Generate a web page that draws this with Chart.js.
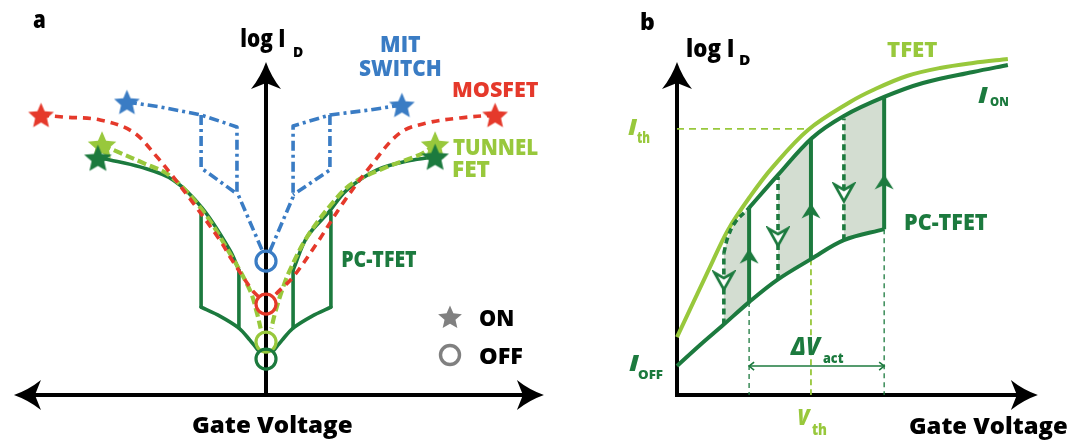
<!DOCTYPE html>
<html><head><meta charset="utf-8">
<script src="https://cdn.jsdelivr.net/npm/chart.js@4.4.1/dist/chart.umd.min.js"></script>
<style>
html,body{margin:0;padding:0;background:#fff;}
#wrap{position:relative;width:1083px;height:441px;background:#fff;}
canvas{position:absolute;left:0;top:0;}
</style></head><body>
<div id="wrap"><canvas id="ca" width="1083" height="441"></canvas><canvas id="cb" width="1083" height="441"></canvas></div>
<script>
// ---------- Panel a data (gate voltage, log I_D in arbitrary units) ----------
const mosLeftV = [-9.22,-8.32,-6.80,-5.45,-4.47,-3.93,-2.99,-1.89,-1.39,-0.57,-0.29];
const mosLeftI = [8.41,8.35,8.26,7.90,7.15,6.67,5.77,4.65,4.05,3.15,2.94];
const mosRightV = [9.39,7.95,6.60,5.49,4.26,3.16,2.09,1.11,0.57,0.29];
const mosRightI = [8.41,8.32,8.17,7.87,6.85,5.77,4.56,3.54,3.15,2.94];

const mitLeftV = [-5.70,-4.34,-2.66,-1.19,-1.19,-0.16];
const mitLeftI = [8.80,8.65,8.41,8.05,6.10,4.35];
const mitLeftLoopV = [-2.66,-2.66,-1.19];
const mitLeftLoopI = [8.41,6.82,6.04];
const mitRightV = [5.57,4.26,2.62,1.11,1.11,0.16];
const mitRightI = [8.71,8.56,8.41,8.08,5.95,4.32];
const mitRightLoopV = [2.62,2.62,1.11];
const mitRightLoopI = [8.41,6.76,6.01];

const tfetLeftV = [-6.72,-5.98,-5.04,-3.93,-2.62,-1.56,-0.66,-0.37,-0.22];
const tfetLeftI = [7.51,7.27,6.97,6.58,5.56,4.35,3.15,2.46,2.00];
const tfetRightV = [6.93,6.31,4.96,3.57,2.83,1.68,0.98,0.66,0.37,0.22];
const tfetRightI = [7.51,7.22,6.85,6.37,5.86,4.74,3.75,3.15,2.46,2.00];

const pcUpLeftV = [-6.89,-6.39,-5.16,-3.81,-2.62,-1.48,-1.11];
const pcUpLeftI = [7.12,7.06,6.85,6.46,5.62,4.35,3.75];
const pcUpRightV = [6.93,5.90,4.55,3.32,2.58,1.68,1.11];
const pcUpRightI = [7.15,7.04,6.76,6.16,5.50,4.74,3.75];
const pcLowLeftV = [-0.33,-0.66,-1.11,-1.89,-2.66];
const pcLowLeftI = [1.35,1.65,2.01,2.37,2.64];
const pcLowRightV = [0.33,0.66,1.11,1.89,2.66];
const pcLowRightI = [1.35,1.65,2.01,2.37,2.64];
const pcStepV = [-2.66,-1.11,1.11,2.66];
const pcStepTop = [5.62,3.75,3.75,5.50];
const pcStepBottom = [2.64,2.01,2.01,2.64];

const offNames = ['MIT','MOSFET','TFET','PC-TFET'];
const offV = [0,0,0,0];
const offI = [4.02,2.73,1.59,1.08];
const onMosV = [-9.22,9.39], onMosI = [8.41,8.41];
const onMitV = [-5.70,5.57], onMitI = [8.80,8.71];
const onTfetV = [-6.72,6.93], onTfetI = [7.51,7.51];
const onPcV = [-6.89,6.93], onPcI = [7.12,7.15];

// ---------- Panel b data ----------
const bTfetV = [0,0.90,1.39,1.99,2.62,3.58,4.73,5.36,6.28,7.19,8.09,9.04];
const bTfetI = [1.74,3.84,4.95,5.95,6.85,7.96,8.80,9.16,9.58,9.82,9.97,10.09];
const bOnV = [1.97,2.76,3.69,4.56,5.66,6.72,8.09,9.04];
const bOnI = [5.62,6.61,7.72,8.38,8.95,9.37,9.70,9.91];
const bBendV = [1.28,1.39,1.58,1.97];
const bBendI = [4.26,4.74,5.17,5.62];
const bOffV = [0,0.63,1.26,1.97,2.73,3.66,4.56,5.66];
const bOffI = [0.87,1.50,2.10,2.79,3.45,4.08,4.65,4.98];
const upV = [1.97,3.66,5.66], upBottom = [2.79,4.08,4.98], upTop = [5.62,7.72,8.95];
const downV = [1.28,2.76,4.56], downTop = [4.26,6.55,8.30], downBottom = [2.12,3.45,4.65];
const shade1V = [1.28,1.97,1.97,1.58,1.39,1.28], shade1I = [2.12,2.79,5.62,5.17,4.74,4.26];
const shade2V = [2.76,3.66,3.66,2.76], shade2I = [3.45,4.08,7.72,6.61];
const shade3V = [4.56,5.66,5.66,4.56], shade3I = [4.65,4.98,8.95,8.38];
const upArrowV = [1.97,3.66,5.66], upArrowI = [4.17,5.53,6.40];
const downArrowV = [1.28,2.76,4.56], downArrowI = [3.42,4.74,6.07];
const ithV = [0,3.58], ithI = [7.99,7.99];
const vthV = 3.66;
const actV = [1.97,5.66], actI = 0.87;

// ---------- styles ----------
const COL = {red:'#e5392b', blue:'#3a7cc4', lime:'#98c83c', green:'#1c7a3e', gray:'#808080', shade:'#d3ddd1', black:'#000000'};
const FONT = '"Open Sans", "Noto Sans", "Liberation Sans", sans-serif';

const pts = (xs, ys) => xs.map((x, i) => ({x, y: ys[i]}));
function lineDs(xs, ys, color, width, dash, tension, cap) {
  return {data: pts(xs, ys), showLine: true, borderColor: color, borderWidth: width,
    borderDash: dash || [], tension: tension || 0, pointRadius: 0, fill: false, clip: false,
    borderCapStyle: cap || 'butt', borderJoinStyle: 'round'};
}
function pointDs(xs, ys, style, extra) {
  return Object.assign({data: pts(xs, ys), showLine: false, pointStyle: style, pointRadius: 10,
    clip: false}, extra || {});
}
function shadeDs(xs, ys) {
  return {data: pts(xs, ys), showLine: true, fill: 'shape', backgroundColor: COL.shade,
    borderWidth: 0, borderColor: 'rgba(0,0,0,0)', pointRadius: 0, tension: 0, clip: false};
}
function starPath(g, cx, cy, R) {
  g.beginPath();
  for (let i = 0; i < 10; i++) {
    const r = i % 2 ? R * 0.46 : R;
    const a = -Math.PI / 2 + i * Math.PI / 5;
    const px = cx + r * Math.cos(a), py = cy + r * Math.sin(a);
    if (i) g.lineTo(px, py); else g.moveTo(px, py);
  }
  g.closePath();
}
function starImg(color, R) {
  const c = document.createElement('canvas');
  const s = Math.ceil(2 * R + 2); c.width = s; c.height = s;
  const g = c.getContext('2d'); g.fillStyle = color;
  starPath(g, s / 2, s / 2 + R * 0.09, R); g.fill();
  return c;
}
function upArrowImg(color) {
  const c = document.createElement('canvas'); c.width = 20; c.height = 16;
  const g = c.getContext('2d'); g.fillStyle = color;
  g.beginPath(); g.moveTo(10, 0.5); g.lineTo(19.5, 15.5); g.lineTo(10, 11); g.lineTo(0.5, 15.5); g.closePath(); g.fill();
  return c;
}
function downArrowImg(color) {
  const c = document.createElement('canvas'); c.width = 24; c.height = 22;
  const g = c.getContext('2d'); g.fillStyle = '#ffffff'; g.strokeStyle = color; g.lineWidth = 2.6; g.lineJoin = 'miter';
  g.beginPath(); g.moveTo(12, 19.5); g.lineTo(2.5, 2.5); g.lineTo(12, 8); g.lineTo(21.5, 2.5); g.closePath(); g.fill(); g.stroke();
  return c;
}
function withOrder(list) { return list.map((d, i) => Object.assign(d, {order: list.length - i})); }

function arrowHead(ctx, x, y, ang, len, half, notch) {
  ctx.save(); ctx.translate(x, y); ctx.rotate(ang);
  ctx.beginPath(); ctx.moveTo(0, 0);
  ctx.quadraticCurveTo(-len * 0.55, -half * 0.35, -len, -half);
  ctx.lineTo(-len + notch, 0); ctx.lineTo(-len, half);
  ctx.quadraticCurveTo(-len * 0.55, half * 0.35, 0, 0);
  ctx.closePath(); ctx.fill(); ctx.restore();
}
function txt(ctx, s, left, base, size, color, width, italic) {
  ctx.save();
  ctx.font = (italic ? 'italic ' : '') + '800 ' + size + 'px ' + FONT;
  ctx.fillStyle = color; ctx.textAlign = 'left'; ctx.textBaseline = 'alphabetic';
  const m = ctx.measureText(s);
  const ink = m.actualBoundingBoxRight + m.actualBoundingBoxLeft;
  const k = width && ink > 0 ? width / ink : 1;
  ctx.translate(left + m.actualBoundingBoxLeft * k, base);
  ctx.scale(k, 1);
  ctx.fillText(s, 0, 0);
  ctx.restore();
}
function drawLabels(ctx, list) { list.forEach(l => txt(ctx, l[0], l[1], l[2], l[3], l[4], l[5], l[6])); }

const labelsA = [
  ['a', 33, 28, 24, COL.black, 12],
  ['log I', 241, 47, 25, COL.black, 43],
  ['D', 294, 57, 14, COL.black, 9],
  ['MIT', 381, 52, 23, COL.blue, 40],
  ['SWITCH', 359, 76, 22, COL.blue, 82],
  ['MOSFET', 453, 97, 21, COL.red, 85],
  ['TUNNEL', 453, 155, 22.5, COL.lime, 85],
  ['FET', 453, 177, 22, COL.lime, 37],
  ['PC-TFET', 342, 267, 23, COL.green, 75],
  ['ON', 480, 326, 22, COL.black, 33],
  ['OFF', 480, 364, 22, COL.black, 42],
  ['Gate Voltage', 193, 433, 22, COL.black, 159]
];
const labelsB = [
  ['b', 641, 30, 23, COL.black, 13],
  ['log I', 687, 57, 25, COL.black, 46],
  ['D', 740, 65, 14, COL.black, 10],
  ['TFET', 887, 57, 21, COL.lime, 50],
  ['I', 978, 103, 22, COL.green, 10, true],
  ['ON', 990, 106, 13, COL.green, 18],
  ['PC-TFET', 905, 230, 23, COL.green, 83],
  ['I', 628, 135, 23, COL.lime, 10, true],
  ['th', 637, 143, 15, COL.lime, 13],
  ['I', 629, 371, 23, COL.green, 11, true],
  ['OFF', 638, 379, 13, COL.green, 25],
  ['\u0394V', 790, 355, 24.5, COL.green, 32, true],
  ['act', 823, 363, 14, COL.green, 21],
  ['V', 798, 425, 23, COL.lime, 13, true],
  ['th', 812, 435, 15, COL.lime, 15],
  ['Gate Voltage', 910, 434, 22, COL.black, 157]
];

// ---------- Panel a chart ----------
const circleOpts = c => ({pointStyle: 'circle', pointRadius: 10, pointBorderWidth: 3.2, pointBorderColor: c, pointBackgroundColor: 'rgba(0,0,0,0)'});
const dsA = withOrder([
  lineDs(pcUpLeftV, pcUpLeftI, COL.green, 3.6, [], 0.35, 'round'),
  lineDs(pcUpRightV, pcUpRightI, COL.green, 3.6, [], 0.35, 'round'),
  lineDs(pcLowLeftV, pcLowLeftI, COL.green, 3.6, [], 0.3, 'round'),
  lineDs(pcLowRightV, pcLowRightI, COL.green, 3.6, [], 0.3, 'round'),
  ...pcStepV.map((v, i) => lineDs([v, v], [pcStepTop[i], pcStepBottom[i]], COL.green, 3.6, [], 0, 'round')),
  lineDs(tfetLeftV, tfetLeftI, COL.lime, 4.2, [9, 4], 0.35),
  lineDs(tfetRightV, tfetRightI, COL.lime, 4.2, [9, 4], 0.35),
  lineDs(mosLeftV, mosLeftI, COL.red, 3.6, [8, 6], 0.35),
  lineDs(mosRightV, mosRightI, COL.red, 3.6, [8, 6], 0.35),
  lineDs(mitLeftV, mitLeftI, COL.blue, 3.6, [10, 4, 3, 4], 0),
  lineDs(mitLeftLoopV, mitLeftLoopI, COL.blue, 3.6, [10, 4, 3, 4], 0),
  lineDs(mitRightV, mitRightI, COL.blue, 3.6, [10, 4, 3, 4], 0),
  lineDs(mitRightLoopV, mitRightLoopI, COL.blue, 3.6, [10, 4, 3, 4], 0),
  pointDs([offV[2]], [offI[2]], 'circle', circleOpts(COL.lime)),
  pointDs([offV[3]], [offI[3]], 'circle', circleOpts(COL.green)),
  pointDs([offV[1]], [offI[1]], 'circle', circleOpts(COL.red)),
  pointDs([offV[0]], [offI[0]], 'circle', circleOpts(COL.blue)),
  pointDs(onTfetV, onTfetI, starImg(COL.lime, 15)),
  pointDs(onPcV, onPcI, starImg(COL.green, 14.5)),
  pointDs(onMosV, onMosI, starImg(COL.red, 13.5)),
  pointDs(onMitV, onMitI, starImg(COL.blue, 13.5))
]);

const axisA = {xFrom: -10.33, xTo: 11.39, yTop: 10};
const pluginA = {
  id: 'panelA',
  beforeDatasetsDraw(chart) {
    const {ctx, scales: {x, y}} = chart;
    const y0 = y.getPixelForValue(0), x0 = x.getPixelForValue(0);
    const xl = x.getPixelForValue(axisA.xFrom), xr = x.getPixelForValue(axisA.xTo);
    const yt = y.getPixelForValue(axisA.yTop);
    ctx.save(); ctx.strokeStyle = COL.black; ctx.fillStyle = COL.black; ctx.lineWidth = 4; ctx.lineCap = 'butt';
    ctx.beginPath(); ctx.moveTo(xl + 20, y0); ctx.lineTo(xr - 20, y0); ctx.stroke();
    ctx.beginPath(); ctx.moveTo(x0, y0 + 2); ctx.lineTo(x0, yt + 20); ctx.stroke();
    arrowHead(ctx, xl, y0, Math.PI, 27, 15, 6);
    arrowHead(ctx, xr, y0, 0, 27, 15, 6);
    arrowHead(ctx, x0, yt, -Math.PI / 2, 27, 15, 6);
    ctx.restore();
  },
  afterDatasetsDraw(chart) {
    const {ctx} = chart;
    drawLabels(ctx, labelsA);
    ctx.save(); ctx.fillStyle = COL.gray; starPath(ctx, 450, 318, 12.5); ctx.fill();
    ctx.strokeStyle = COL.gray; ctx.lineWidth = 3.4; ctx.beginPath(); ctx.arc(450, 355, 9.5, 0, Math.PI * 2); ctx.stroke();
    ctx.restore();
  }
};

// ---------- Panel b chart ----------
const upImg = upArrowImg(COL.green), downImg = downArrowImg(COL.green);
const dsB = withOrder([
  shadeDs(shade1V, shade1I), shadeDs(shade2V, shade2I), shadeDs(shade3V, shade3I),
  lineDs([upV[0], upV[0]], [upBottom[0], 0], COL.green, 1.3, [5, 4], 0),
  lineDs([upV[2], upV[2]], [upBottom[2], 0], COL.green, 1.3, [5, 4], 0),
  lineDs([vthV, vthV], [upBottom[1], 0], COL.lime, 1.8, [6, 4], 0),
  lineDs(ithV, ithI, COL.lime, 1.8, [7, 5], 0),
  lineDs(bTfetV, bTfetI, COL.lime, 4, [], 0.35),
  lineDs(bOffV, bOffI, COL.green, 4, [], 0.35),
  lineDs(bOnV, bOnI, COL.green, 4, [], 0.35),
  lineDs(bBendV, bBendI, COL.green, 3.6, [6, 4], 0.4),
  ...downV.map((v, i) => lineDs([v, v], [downBottom[i], downTop[i]], COL.green, 3.6, [6, 4], 0)),
  ...upV.map((v, i) => lineDs([v, v], [upBottom[i], upTop[i]], COL.green, 4, [], 0)),
  pointDs(upArrowV, upArrowI, upImg),
  pointDs(downArrowV, downArrowI, downImg)
]);

const axisB = {xFrom: -0.05, xTo: 9.86, yFrom: -0.06, yTop: 10};
const pluginB = {
  id: 'panelB',
  beforeDatasetsDraw(chart) {
    const {ctx, scales: {x, y}} = chart;
    const y0 = y.getPixelForValue(0), x0 = x.getPixelForValue(0);
    const xl = x.getPixelForValue(axisB.xFrom), xr = x.getPixelForValue(axisB.xTo);
    const yb = y.getPixelForValue(axisB.yFrom), yt = y.getPixelForValue(axisB.yTop);
    ctx.save(); ctx.strokeStyle = COL.black; ctx.fillStyle = COL.black; ctx.lineWidth = 4; ctx.lineCap = 'butt';
    ctx.beginPath(); ctx.moveTo(xl, y0); ctx.lineTo(xr - 20, y0); ctx.stroke();
    ctx.beginPath(); ctx.moveTo(x0, yb); ctx.lineTo(x0, yt + 20); ctx.stroke();
    arrowHead(ctx, xr, y0, 0, 27, 15, 6);
    arrowHead(ctx, x0, yt, -Math.PI / 2, 27, 15, 6);
    ctx.restore();
  },
  afterDatasetsDraw(chart) {
    const {ctx, scales: {x, y}} = chart;
    const ya = y.getPixelForValue(actI);
    const xa = x.getPixelForValue(actV[0]), xb = x.getPixelForValue(actV[1]);
    ctx.save(); ctx.strokeStyle = COL.green; ctx.lineWidth = 1.6;
    ctx.beginPath(); ctx.moveTo(xa, ya); ctx.lineTo(xb, ya); ctx.stroke();
    ctx.beginPath(); ctx.moveTo(xa + 5, ya - 4); ctx.lineTo(xa, ya); ctx.lineTo(xa + 5, ya + 4);
    ctx.moveTo(xb - 5, ya - 4); ctx.lineTo(xb, ya); ctx.lineTo(xb - 5, ya + 4); ctx.stroke();
    ctx.restore();
    drawLabels(ctx, labelsB);
  }
};

function makeChart(id, ds, xr, yr, pad, plugin) {
  return new Chart(document.getElementById(id), {
    type: 'line',
    data: {datasets: ds},
    options: {
      responsive: false, animation: false, devicePixelRatio: 1, events: [],
      layout: {padding: pad},
      plugins: {legend: {display: false}, tooltip: {enabled: false}, title: {display: false}},
      scales: {
        x: {type: 'linear', min: xr[0], max: xr[1], display: false},
        y: {type: 'linear', min: yr[0], max: yr[1], display: false}
      }
    },
    plugins: [plugin]
  });
}
function start() {
  makeChart('ca', dsA, [-10, 10], [0, 10], {left: 22, right: 573, top: 62, bottom: 46}, pluginA);
  makeChart('cb', dsB, [0, 10], [0, 10], {left: 677, right: 40, top: 62, bottom: 46}, pluginB);
}
if (document.fonts && document.fonts.load) {
  Promise.all([document.fonts.load('800 20px "Open Sans"'), document.fonts.load('italic 800 20px "Open Sans"')]).then(start, start);
} else start();
</script>
</body></html>
